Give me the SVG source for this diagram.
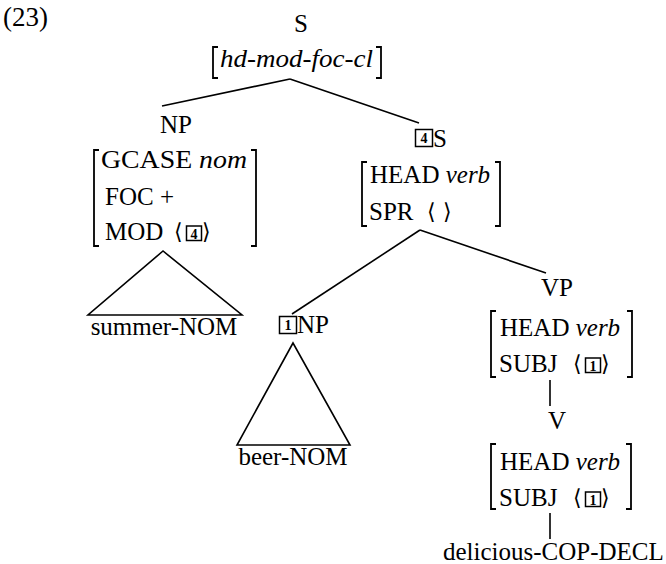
<svg xmlns="http://www.w3.org/2000/svg" width="666" height="564" viewBox="0 0 666 564">
<style>
text{font-family:"Liberation Serif","DejaVu Serif",serif;font-size:25px;fill:#000}
.it{font-style:italic}
.mid{text-anchor:middle}
.ang{font-family:"DejaVu Serif","DejaVu Sans",serif;font-size:22px}
.tagn{font-size:14px;font-weight:bold;text-anchor:middle}
.br,.ln,.tag{fill:none;stroke:#000;stroke-width:1.6}
.br{stroke-width:1.8}
.tag{stroke-width:1.5}
</style>
<rect width="666" height="564" fill="#fff"/>
<text id="ex-num" x="3" y="26" style="font-size:27px">(23)</text>
<g id="connectors">
<line class="ln" x1="290" y1="79" x2="162" y2="106"/>
<line class="ln" x1="290" y1="79" x2="419" y2="123"/>
<polygon class="ln" points="163,251 88,315 242,315"/>
<line class="ln" x1="420" y1="230" x2="292" y2="314"/>
<line class="ln" x1="420" y1="230" x2="546" y2="273"/>
<polygon class="ln" points="293,343 237,445 350,445"/>
<line class="ln" x1="550" y1="380" x2="550" y2="406"/>
<line class="ln" x1="550" y1="513" x2="550" y2="539"/>
</g>
<g id="node-S">
<text class="mid" x="301" y="32">S</text>
<path class="br" d="M218,47H213V78H218M376,47H381V78H376"/>
<text class="it" x="220" y="67" textLength="153" lengthAdjust="spacingAndGlyphs">hd-mod-foc-cl</text>
</g>
<g id="node-NP-foc">
<text class="mid" x="176" y="133">NP</text>
<path class="br" d="M99,150H94V246H99M251,150H256V246H251"/>
<text x="101" y="168" textLength="146" lengthAdjust="spacingAndGlyphs">GCASE <tspan class="it">nom</tspan></text>
<text x="105" y="205">FOC +</text>
<text x="105" y="240">MOD</text>
<text class="ang" x="174" y="239">⟨</text>
<rect class="tag" x="186.5" y="226" width="15" height="14.5"/>
<text class="tagn" x="194" y="238.5">4</text>
<text class="ang" x="202" y="239">⟩</text>
</g>
<g id="leaf-summer">
<text class="mid" x="164" y="335">summer-NOM</text>
</g>
<g id="node-S4">
<rect class="tag" x="415.5" y="129.5" width="17" height="17"/>
<text class="tagn" x="424" y="143">4</text>
<text x="433" y="147">S</text>
<path class="br" d="M367,162H362V226H367M495,162H500V226H495"/>
<text x="370" y="183">HEAD <tspan class="it">verb</tspan></text>
<text x="369" y="220">SPR</text>
<text class="ang" x="427" y="219">⟨</text>
<text class="ang" x="443" y="219">⟩</text>
</g>
<g id="node-NP1">
<rect class="tag" x="279.5" y="316.5" width="17" height="17"/>
<text class="tagn" x="288" y="330">1</text>
<text x="297" y="333">NP</text>
</g>
<g id="leaf-beer">
<text class="mid" x="293" y="465">beer-NOM</text>
</g>
<g id="node-VP">
<text class="mid" x="557" y="296">VP</text>
<path class="br" d="M496,311H491V377H496M627,311H632V377H627"/>
<text x="500" y="336">HEAD <tspan class="it">verb</tspan></text>
<text x="499" y="372">SUBJ</text>
<text class="ang" x="573" y="371">⟨</text>
<rect class="tag" x="585.5" y="358" width="15" height="14.5"/>
<text class="tagn" x="593" y="370.5">1</text>
<text class="ang" x="601" y="371">⟩</text>
</g>
<g id="node-V">
<text class="mid" x="557" y="429">V</text>
<path class="br" d="M496,444H491V509H496M626,444H631V509H626"/>
<text x="500" y="470">HEAD <tspan class="it">verb</tspan></text>
<text x="499" y="506">SUBJ</text>
<text class="ang" x="573" y="505">⟨</text>
<rect class="tag" x="585.5" y="492" width="15" height="14.5"/>
<text class="tagn" x="593" y="504.5">1</text>
<text class="ang" x="601" y="505">⟩</text>
</g>
<g id="leaf-delicious">
<text x="443" y="560">delicious-COP-DECL</text>
</g>
</svg>
